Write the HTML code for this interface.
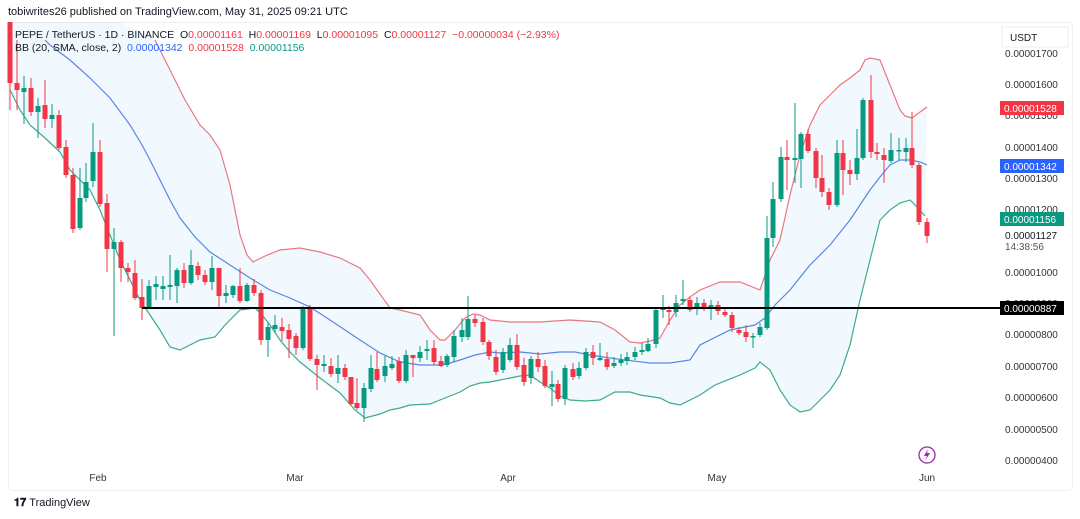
<!DOCTYPE html>
<html><head><meta charset="utf-8"><style>
body{margin:0;width:1080px;height:519px;background:#fff;font-family:"Liberation Sans",sans-serif;overflow:hidden;position:relative}
.t{position:absolute;white-space:nowrap}
</style></head><body>
<svg id="s" width="1080" height="519" style="position:absolute;left:0;top:0"></svg>
<div class="t" style="left:8px;top:6px;font-size:11px;color:#131722">tobiwrites26 published on TradingView.com, May 31, 2025 09:21 UTC</div>
<div class="t" style="left:15px;top:29px;font-size:10.5px;color:#131722">PEPE / TetherUS · 1D · BINANCE &nbsp;O<span style="color:#f23645">0.00001161</span> &nbsp;H<span style="color:#f23645">0.00001169</span> &nbsp;L<span style="color:#f23645">0.00001095</span> &nbsp;C<span style="color:#f23645">0.00001127 &nbsp;−0.00000034 (−2.93%)</span></div>
<div class="t" style="left:15px;top:42px;font-size:10.5px;color:#131722">BB (20, SMA, close, 2) &nbsp;<span style="color:#2962ff">0.00001342</span> &nbsp;<span style="color:#f23645">0.00001528</span> &nbsp;<span style="color:#089981">0.00001156</span></div>
<div class="t" style="left:14px;top:497px;font-size:11px;color:#131722;font-weight:bold">𝟏𝟕 <span style="font-weight:normal">TradingView</span></div>
<script>
const s=document.getElementById('s');let h='';
h+='<rect x="8.5" y="22.5" width="1064" height="468" rx="4" fill="none" stroke="#eceef2"/>';
const U=[[10,22],[120,22],[155,40],[170,70],[185,100],[200,125],[210,135],[220,150],[230,185],[240,235],[247,255],[253,262],[265,256],[280,250],[300,248],[320,252],[340,258],[360,268],[370,280],[390,308],[400,310],[420,315],[430,330],[440,340],[445,340],[455,330],[465,318],[473,314],[480,315],[490,320],[510,322],[540,322],[570,320],[600,322],[615,330],[630,342],[640,343],[650,341],[660,338],[670,320],[680,305],[690,297],[700,290],[720,282],[740,282],[760,290],[770,260],[780,240],[790,195],[800,155],[810,125],[820,105],[830,95],[840,85],[850,78],[860,70],[865,60],[870,58],[880,60],[890,85],[900,110],[905,116],[912,118],[920,112],[927,107]];
const M=[[45,40],[50,45],[70,60],[90,78],[110,98],[130,125],[142,145],[150,160],[160,180],[170,200],[180,218],[195,237],[210,252],[230,265],[250,278],[270,290],[290,298],[310,307],[330,320],[345,330],[360,340],[380,353],[400,362],[420,365],[440,365],[450,363],[460,360],[475,355],[490,352],[500,353],[520,352],[540,354],[560,352],[575,352],[590,355],[610,358],[625,360],[650,363],[670,363],[690,360],[700,345],[730,330],[755,325],[765,318],[775,305],[790,290],[810,265],[830,245],[850,220],[860,205],[870,190],[880,177],[890,165],[900,160],[910,160],[920,162],[927,165]];
const L=[[10,90],[20,110],[30,125],[45,138],[60,152],[70,170],[80,180],[90,190],[100,210],[110,235],[120,260],[130,280],[140,300],[150,315],[160,330],[170,347],[180,350],[190,345],[200,340],[215,337],[225,325],[240,310],[255,308],[262,315],[270,325],[280,340],[290,352],[300,362],[320,378],[340,393],[355,410],[365,418],[380,414],[390,410],[400,408],[410,405],[430,404],[440,400],[450,396],[460,392],[470,386],[480,383],[490,382],[500,380],[510,378],[520,376],[530,375],[540,382],[550,388],[560,396],[570,400],[585,401],[600,400],[615,392],[630,392],[640,395],[660,398],[670,403],[680,405],[690,400],[700,395],[715,385],[740,375],[755,368],[760,362],[770,370],[780,390],[790,405],[800,412],[810,410],[820,400],[830,390],[840,375],[850,345],[860,300],[870,260],[880,220],[890,210],[900,203],[910,200],[915,205],[925,216]];
const p=a=>a.map(q=>q.join(',')).join(' ');
h+='<polygon points="'+p(U)+' '+p(L.slice().reverse())+'" fill="#2196f3" fill-opacity="0.06"/>';
h+='<polyline points="'+p(U.slice(2))+'" fill="none" stroke="#e8787f" stroke-width="1.2"/>';
h+='<polyline points="'+p(M)+'" fill="none" stroke="#5b84e6" stroke-width="1.2"/>';
h+='<polyline points="'+p(L)+'" fill="none" stroke="#3daa8a" stroke-width="1.2"/>';
// candles: x, g(1)/r(0), bodyTop, bodyBot, wickTop, wickBot
const C=[[10,0,22,83,22,110],[17,0,83,90,40,110],[24,1,88,92,76,124],[31,0,88,112,78,116],[38,1,106,112,98,138],[45,0,105,119,80,128],[52,1,115,119,104,128],[59,0,115,148,110,150],[66,0,147,175,140,178],[73,0,175,229,168,233],[80,1,198,228,168,230],[86,1,182,198,163,202],[93,1,152,181,123,187],[100,0,152,204,140,207],[107,0,203,249,194,272],[114,1,242,249,228,336],[121,0,242,268,240,282],[128,0,268,272,263,282],[135,0,273,298,260,300],[142,0,297,308,279,320],[149,1,286,308,280,308],[156,1,284,287,276,300],[163,1,286,289,276,300],[170,1,285,287,255,300],[177,1,270,286,268,303],[184,0,270,283,263,288],[191,1,265,283,250,285],[198,0,266,275,262,280],[205,0,275,282,270,285],[212,1,268,282,256,290],[219,0,268,296,268,308],[226,1,293,296,285,303],[233,1,286,295,285,298],[240,0,286,301,268,303],[247,1,285,301,283,302],[254,0,285,293,279,296],[261,0,293,340,290,345],[268,1,327,340,322,357],[275,1,325,329,315,333],[282,0,327,331,318,341],[289,0,330,339,324,358],[296,0,336,348,333,355],[303,1,308,348,306,350],[310,0,308,359,305,361],[317,0,359,365,355,390],[324,1,364,366,355,372],[331,0,366,374,358,377],[338,1,368,374,355,383],[345,0,368,377,364,380],[351,0,377,404,377,405],[357,0,403,408,378,410],[364,1,388,408,383,422],[371,1,368,389,355,392],[377,0,369,380,352,382],[385,1,366,376,356,382],[392,1,364,368,356,370],[399,0,361,381,357,383],[406,1,355,381,350,383],[413,0,355,358,355,377],[420,1,352,358,346,362],[427,1,349,351,340,360],[434,0,348,362,340,365],[441,0,361,366,356,367],[447,1,356,365,354,367],[454,1,336,357,330,362],[462,1,330,337,318,342],[468,1,319,337,296,340],[475,0,319,323,315,327],[483,0,322,342,318,345],[489,0,342,356,340,360],[496,0,357,372,350,375],[503,1,352,370,348,373],[510,1,345,360,338,362],[517,0,345,367,334,370],[524,0,365,382,358,386],[531,1,359,378,356,384],[538,0,359,367,352,372],[545,0,366,386,360,388],[552,1,384,387,371,406],[558,0,384,399,380,402],[565,1,368,399,365,405],[573,0,369,377,363,380],[579,1,368,376,362,379],[586,1,352,368,348,370],[593,0,352,358,345,365],[600,1,358,360,343,361],[607,0,359,367,352,370],[614,1,363,366,357,368],[621,1,360,363,354,366],[627,1,357,361,352,365],[635,1,352,357,347,360],[642,1,350,352,343,355],[648,1,344,351,338,352],[656,1,310,344,308,348],[663,1,308,310,295,318],[669,0,310,312,306,325],[676,1,303,312,295,317],[683,1,299,301,280,305],[690,0,300,310,297,312],[697,1,303,307,297,315],[704,0,303,307,299,311],[711,1,305,307,300,320],[718,0,305,311,301,315],[725,0,312,315,308,317],[732,0,315,328,312,332],[739,0,330,333,327,335],[746,0,332,337,325,342],[753,1,336,337,333,348],[760,1,327,335,323,337],[767,1,238,328,216,330],[773,1,199,238,182,247],[781,1,157,199,147,202],[787,0,157,160,140,190],[795,1,158,160,103,183],[801,1,134,159,132,188],[808,0,134,151,129,153],[816,0,151,178,148,188],[822,0,178,192,155,197],[829,0,192,205,188,210],[837,1,153,205,140,207],[843,0,153,170,140,195],[850,0,170,174,160,185],[857,1,158,174,129,180],[863,1,100,158,98,160],[871,0,100,152,75,158],[877,0,152,154,143,160],[884,0,155,160,148,183],[891,1,150,161,133,163],[899,1,150,151,138,160],[906,1,148,152,138,162],[912,0,148,165,112,168],[919,0,165,222,163,225],[927,0,222,236,218,243]];
for(const c of C){const col=c[1]?'#089981':'#f23645';h+=`<line x1="${c[0]}" x2="${c[0]}" y1="${c[4]}" y2="${c[5]}" stroke="${col}"/><rect x="${c[0]-2.5}" y="${c[2]}" width="5" height="${Math.max(1.5,c[3]-c[2])}" fill="${col}"/>`;}
h+='<line x1="142" x2="1000" y1="308" y2="308" stroke="#000" stroke-width="2"/>';
const lv=[[1700,53],[1600,84],[1500,115],[1400,147],[1300,178],[1200,209],[1000,272],[900,303],[800,334],[700,366],[600,397],[500,429],[400,460]];
for(const [v,y] of lv)h+=`<text x="1005" y="${y+4}" font-size="10" fill="#333" font-family="Liberation Sans">0.0000${v<1000?'0'+v:v}</text>`;
h+='<rect x="1002" y="27" width="66" height="20" fill="#fff" stroke="#eee"/><text x="1010" y="41" font-size="10" fill="#131722" font-family="Liberation Sans">USDT</text>';
const lab=[[108,'#f23645','0.00001528'],[166,'#2962ff','0.00001342'],[219,'#089981','0.00001156'],[308,'#000','0.00000887']];
for(const [y,c,t] of lab)h+=`<rect x="1000" y="${y-7}" width="64" height="14" fill="${c}"/><text x="1004" y="${y+4}" font-size="10" fill="#fff" font-family="Liberation Sans">${t}</text>`;
h+='<rect x="1000" y="228" width="66" height="24" fill="#fff"/><text x="1005" y="239" font-size="10" fill="#131722" font-family="Liberation Sans">0.00001127</text><text x="1005" y="250" font-size="10" fill="#555" font-family="Liberation Sans">14:38:56</text>';
for(const [x,t] of [[98,'Feb'],[295,'Mar'],[508,'Apr'],[717,'May'],[927,'Jun']])h+=`<text x="${x}" y="481" font-size="10" fill="#333" text-anchor="middle" font-family="Liberation Sans">${t}</text>`;
h+='<circle cx="927" cy="455" r="8" fill="none" stroke="#9c27b0" stroke-width="1.3"/><path d="M928 449 L924 456 L927 456 L925 461 L930 453 L927 453 Z" fill="#9c27b0"/>';
s.innerHTML=h;
</script>
</body></html>
